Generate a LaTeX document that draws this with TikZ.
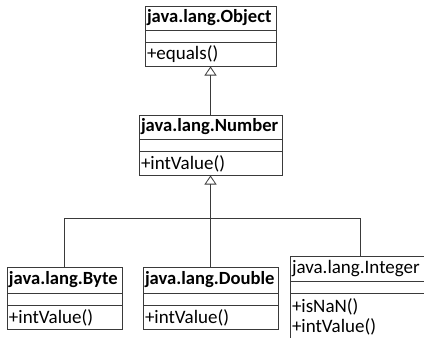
\documentclass[tikz,border=0pt]{standalone}
\usepackage{fontspec}
\setmainfont{Carlito}
\usetikzlibrary{arrows.meta,positioning}
\definecolor{umlink}{HTML}{3A3A3A}
\tikzset{
  part/.style={draw=umlink, line width=0.8pt, inner xsep=2pt, inner ysep=0pt,
    outer sep=0pt, align=left, text=black, font=\fontsize{19}{20}\selectfont},
  head/.style={part, minimum height=24pt},
  headbold/.style={head, font=\fontsize{18.6}{20}\selectfont\bfseries},
  gap/.style={part, minimum height=12.5pt},
  ops/.style={part, minimum height=24pt},
  link/.style={draw=umlink, line width=0.8pt},
  inherit/.style={link, -{Triangle[open, length=9pt, width=12pt]}},
}
\begin{document}
\begin{tikzpicture}[x=1pt, y=-1pt]
\clip (0,0) rectangle (424,338);
\fill[white] (0,0) rectangle (424,338);

% ---- superclasses ---------------------------------------------------
\node[headbold, anchor=north west, text width=127pt] (object) at (145,6) {java.lang.Object};
\node[gap, below=0pt of object, text width=127pt] (object-gap) {};
\node[ops, below=0pt of object-gap, text width=127pt] (object-ops) {+equals()};

\node[headbold, anchor=north west, text width=139pt] (number) at (139,115) {java.lang.Number};
\node[gap, below=0pt of number, text width=139pt] (number-gap) {};
\node[ops, below=0pt of number-gap, text width=139pt] (number-ops) {+intValue()};

% ---- subclasses -----------------------------------------------------
\node[headbold, anchor=north west, text width=111pt, minimum height=26pt] (byte) at (7,267) {java.lang.Byte};
\node[gap, below=0pt of byte, text width=111pt] (byte-gap) {};
\node[ops, below=0pt of byte-gap, text width=111pt] (byte-ops) {+intValue()};

\node[headbold, anchor=north west, text width=131pt, minimum height=26pt] (double) at (143,267) {java.lang.Double};
\node[gap, below=0pt of double, text width=131pt] (double-gap) {};
\node[ops, below=0pt of double-gap, text width=131pt] (double-ops) {+intValue()};

\node[head, anchor=north west, text width=136pt, minimum height=25pt] (integer) at (290,256) {java.lang.Integer};
\node[gap, below=0pt of integer, text width=136pt] (integer-gap) {};
\node[ops, below=0pt of integer-gap, text width=136pt, minimum height=47pt] (integer-ops) {+isNaN()\\+intValue()};

% ---- generalisation -------------------------------------------------
\coordinate (bus) at (211,218);
\draw[inherit] (number.north) -- (object-ops.south);
\draw[inherit] (double.north) -- (number-ops.south);
\draw[link] (byte.north) |- (bus);
\draw[link] (integer.north) |- (bus);

\end{tikzpicture}
\end{document}
